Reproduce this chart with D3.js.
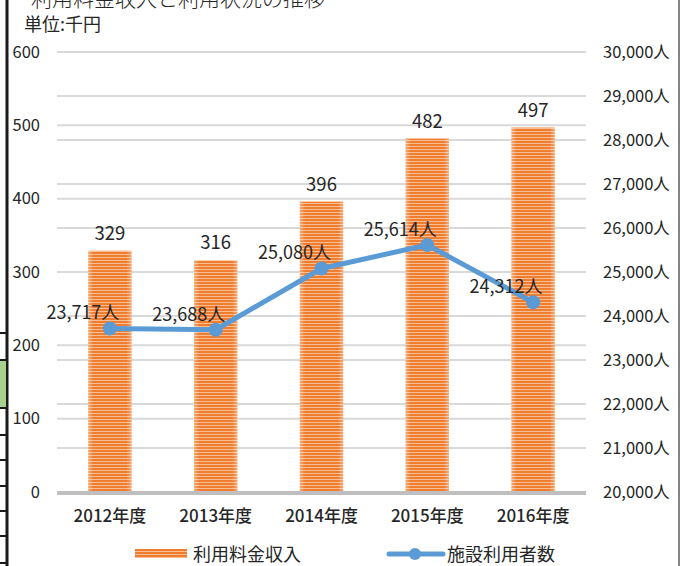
<!DOCTYPE html>
<html><head><meta charset="utf-8">
<script src="https://cdn.jsdelivr.net/npm/d3@7"></script>
<style>
html,body{margin:0;padding:0;background:#fff;}
svg{display:block;font-family:"Noto Sans CJK JP","Noto Sans",sans-serif;}
</style></head>
<body>
<svg id="c" width="683" height="566"></svg>
<script>
const categories = ["2012年度","2013年度","2014年度","2015年度","2016年度"];
const revenue = [329, 316, 396, 482, 497];
const users = [23717, 23688, 25080, 25614, 24312];
const leftTicks = [0,100,200,300,400,500,600];
const rightTicks = [20000,21000,22000,23000,24000,25000,26000,27000,28000,29000,30000];
const seriesNames = ["利用料金収入","施設利用者数"];
const titleText = "・利用料金収入と利用状況の推移";
const unitText = "単位:千円";

const svg = d3.select("#c");
const pTop = 52, pBottom = 492, pLeft = 57, pRight = 586;
const textColor = "#262626";

const x = d3.scaleBand().domain(categories).range([pLeft, pRight]).paddingInner(0.59).paddingOuter(0.295);
const yL = d3.scaleLinear().domain([0,600]).range([pBottom, pTop]);
const yR = d3.scaleLinear().domain([20000,30000]).range([pBottom, pTop]);

// pattern for bars
const defs = svg.append("defs");
const pat = defs.append("pattern").attr("id","stripes").attr("patternUnits","userSpaceOnUse")
  .attr("width",8).attr("height",3);
pat.append("rect").attr("width",8).attr("height",3).attr("fill","#F8BE92");
pat.append("rect").attr("width",8).attr("height",2).attr("fill","#EE7D30");
const grad = defs.append("linearGradient").attr("id","edge").attr("x1",0).attr("x2",1);
grad.append("stop").attr("offset","0").attr("stop-color","#fff").attr("stop-opacity",0.35);
grad.append("stop").attr("offset","0.12").attr("stop-color","#fff").attr("stop-opacity",0);
grad.append("stop").attr("offset","0.88").attr("stop-color","#fff").attr("stop-opacity",0);
grad.append("stop").attr("offset","1").attr("stop-color","#fff").attr("stop-opacity",0.35);

// frame artifacts
svg.append("line").attr("x1",7).attr("x2",7).attr("y1",0).attr("y2",566).attr("stroke","#1a1a1a").attr("stroke-width",3);
svg.append("line").attr("x1",679).attr("x2",679).attr("y1",0).attr("y2",566).attr("stroke","#333").attr("stroke-width",1.2);
svg.append("rect").attr("x",0).attr("y",360).attr("width",6).attr("height",48).attr("fill","#A9D18E");
[333,360,408,435,460,486,511,536,563].forEach(v=>{
  svg.append("line").attr("x1",0).attr("x2",7).attr("y1",v).attr("y2",v).attr("stroke","#1a1a1a").attr("stroke-width",2);
});

// title (cut off at top, as in the source)
svg.append("text").attr("x",10).attr("y",6).attr("font-size",21).attr("font-weight",300).attr("fill",textColor).text(titleText);
svg.append("text").attr("x",24).attr("y",31).attr("font-size",18).attr("fill",textColor).text(unitText);

// gridlines
const g = svg.append("g");
g.selectAll("line.gr").data(rightTicks.slice(1)).join("line")
  .attr("x1",pLeft).attr("x2",pRight).attr("y1",d=>yR(d)).attr("y2",d=>yR(d))
  .attr("stroke","#D9D9D9").attr("stroke-width",2);
g.selectAll("line.gl").data(leftTicks.slice(1)).join("line")
  .attr("x1",pLeft).attr("x2",pRight).attr("y1",d=>yL(d)).attr("y2",d=>yL(d))
  .attr("stroke","#D9D9D9").attr("stroke-width",2);

// bars
const bars = svg.append("g");
bars.selectAll("rect.b").data(revenue).join("rect")
  .attr("x",(d,i)=>x(categories[i])).attr("width",x.bandwidth())
  .attr("y",d=>yL(d)).attr("height",d=>pBottom-yL(d)).attr("fill","url(#stripes)");
bars.selectAll("rect.e").data(revenue).join("rect")
  .attr("x",(d,i)=>x(categories[i])).attr("width",x.bandwidth())
  .attr("y",d=>yL(d)).attr("height",d=>pBottom-yL(d)).attr("fill","url(#edge)");

// baseline
svg.append("line").attr("x1",pLeft).attr("x2",pRight).attr("y1",yL(0)+1).attr("y2",yL(0)+1)
  .attr("stroke","#BFBFBF").attr("stroke-width",4);

// axes
const axL = svg.append("g").attr("transform",`translate(40,0)`)
  .call(d3.axisLeft(yL).tickValues(leftTicks).tickSize(0).tickPadding(0).tickFormat(d3.format("d")));
axL.select(".domain").remove();
axL.selectAll("text").attr("font-size",16.5).attr("fill",textColor)
  .attr("font-family","'Noto Sans CJK JP',sans-serif");

const axR = svg.append("g").attr("transform",`translate(${pRight+17},0)`)
  .call(d3.axisRight(yR).tickValues(rightTicks).tickSize(0).tickPadding(0).tickFormat(d=>d3.format(",")(d)+"人"));
axR.select(".domain").remove();
axR.selectAll("text").attr("font-size",16.5).attr("fill",textColor).attr("font-family","'Noto Sans CJK JP',sans-serif");

const axX = svg.append("g").attr("transform",`translate(0,${pBottom})`)
  .call(d3.axisBottom(x).tickSize(0).tickPadding(18));
axX.select(".domain").remove();
axX.selectAll("text").attr("font-size",17).attr("font-weight",500).attr("fill",textColor)
  .attr("font-family","'Noto Sans CJK JP',sans-serif");

// bar labels
svg.append("g").selectAll("text").data(revenue).join("text")
  .attr("x",(d,i)=>x(categories[i])+x.bandwidth()/2).attr("y",d=>yL(d)-11)
  .attr("text-anchor","middle").attr("font-size",18.5).attr("fill",textColor).text(d=>d);

// line
const cx = (d,i)=>x(categories[i])+x.bandwidth()/2;
const line = d3.line().x(cx).y(d=>yR(d));
svg.append("path").datum(users).attr("d",line).attr("fill","none")
  .attr("stroke","#5B9BD5").attr("stroke-width",5).attr("stroke-linejoin","round");
svg.append("g").selectAll("circle").data(users).join("circle")
  .attr("cx",cx).attr("cy",d=>yR(d)).attr("r",7).attr("fill","#5B9BD5");
svg.append("g").selectAll("text").data(users).join("text")
  .attr("x",(d,i)=>cx(d,i)-27).attr("y",d=>yR(d)-9)
  .attr("text-anchor","middle").attr("font-size",18).attr("fill",textColor)
  .text(d=>d3.format(",")(d)+"人");

// legend
const lg = svg.append("g");
lg.append("rect").attr("x",135).attr("y",549).attr("width",52).attr("height",9).attr("fill","url(#stripes)");
lg.append("text").attr("x",193).attr("y",561).attr("font-size",18).attr("fill",textColor).text(seriesNames[0]);
lg.append("line").attr("x1",389).attr("x2",443).attr("y1",554).attr("y2",554).attr("stroke","#5B9BD5").attr("stroke-width",5).attr("stroke-linecap","round");
lg.append("circle").attr("cx",415).attr("cy",554).attr("r",6).attr("fill","#5B9BD5");
lg.append("text").attr("x",447).attr("y",561).attr("font-size",18).attr("fill",textColor).text(seriesNames[1]);
</script>
</body></html>
